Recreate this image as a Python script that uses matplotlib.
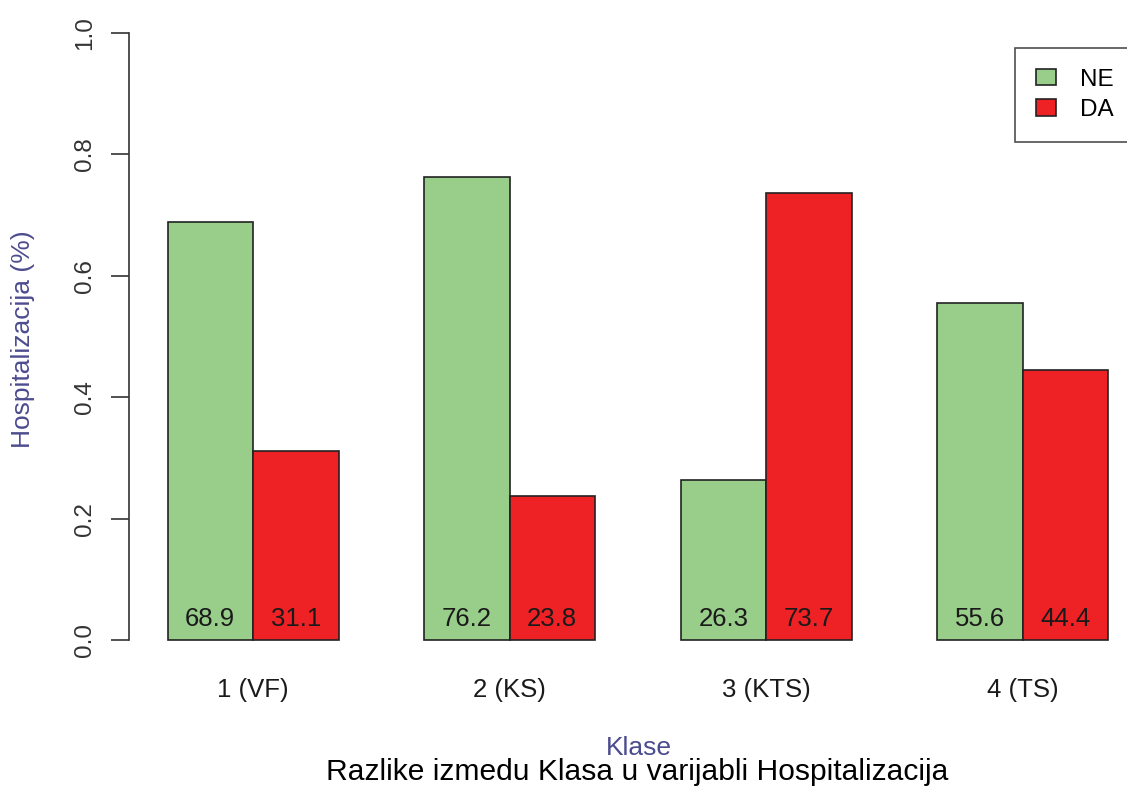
import numpy as np
import matplotlib as mpl
mpl.use('Agg')
from matplotlib import pyplot as plt
from matplotlib.patches import Patch
import matplotlib.transforms as mtransforms

plt.rcParams['font.family'] = ['Liberation Sans', 'DejaVu Sans']

# data
klase = ['1 (VF)', '2 (KS)', '3 (KTS)', '4 (TS)']
ne = [0.689, 0.762, 0.263, 0.556]
da = [0.311, 0.238, 0.737, 0.444]
ne_txt = ['68.9', '76.2', '26.3', '55.6']
da_txt = ['31.1', '23.8', '73.7', '44.4']
yticks = [0.0, 0.2, 0.4, 0.6, 0.8, 1.0]

green = '#98CE8A'
red = '#EE2124'
blue = '#4B4B8F'
ink = '#1a1a1a'

W, H = 1127, 798
fig = plt.figure(figsize=(W / 100, H / 100), dpi=100)

# axes: left spine at x=129px, y=0 at 640px, y=1 at 33px
ax_left = 129 / W
ax_bottom = 1 - 640 / H
ax_top = 1 - 33 / H
ax = fig.add_axes([ax_left, ax_bottom, 1 - ax_left, ax_top - ax_bottom])

unit = 85.5
ax.set_xlim(-(167.5 - 129) / unit, (W - 167.5) / unit)
ax.set_ylim(0, 1)

pos = np.arange(len(klase)) * 3
ax.bar(pos + 0.5, ne, width=1, color=green, edgecolor='#222222', linewidth=1.2, clip_on=False)
ax.bar(pos + 1.5, da, width=1, color=red, edgecolor='#222222', linewidth=1.2, clip_on=False)

for i in range(len(klase)):
    ax.text(pos[i] + 0.5, 0.023, ne_txt[i], ha='center', va='baseline', fontsize=18.5, color=ink)
    ax.text(pos[i] + 1.5, 0.023, da_txt[i], ha='center', va='baseline', fontsize=18.5, color=ink)

# group labels under the bars (no x axis line in the original)
ax.set_xticks([])
xlab_tr = mtransforms.blended_transform_factory(ax.transData, fig.transFigure)
for i in range(len(klase)):
    ax.text(pos[i] + 1, 1 - 697 / H, klase[i], ha='center', va='baseline', fontsize=18.5,
            color=ink, transform=xlab_tr)

# y axis
ax.set_yticks(yticks)
ax.set_yticklabels([])
ax.tick_params(axis='y', length=13, width=1.2, color='#333333')
ylab_tr = mtransforms.blended_transform_factory(fig.transFigure, ax.transData)
for v in yticks:
    ax.text(85 / W, v, '%.1f' % v, rotation=90, ha='center', va='center', fontsize=17.5,
            color='#333333', transform=ylab_tr)

for s in ['top', 'right', 'bottom']:
    ax.spines[s].set_visible(False)
ax.spines['left'].set_bounds(0, 1)
ax.spines['left'].set_linewidth(1.2)
ax.spines['left'].set_color('#333333')

fig.text(23 / W, 1 - 339 / H, 'Hospitalizacija (%)', rotation=90, ha='center', va='center',
         fontsize=19, color=blue)
fig.text(639 / W, 1 - 755 / H, 'Klase', ha='center', va='baseline', fontsize=19, color=blue)
fig.text(637 / W, 1 - 780 / H, 'Razlike izmedu Klasa u varijabli Hospitalizacija',
         ha='center', va='baseline', fontsize=21.6, color='black')

handles = [Patch(facecolor=green, edgecolor='#222222', linewidth=1.2, label='NE'),
           Patch(facecolor=red, edgecolor='#222222', linewidth=1.2, label='DA')]
leg = fig.legend(handles=handles, loc='upper left',
                 bbox_to_anchor=(1015 / W, 1 - 139 / H, 130 / W, 91 / H), mode='expand',
                 fontsize=17.5, frameon=True, fancybox=False, borderpad=0.85,
                 handlelength=0.82, handleheight=0.66, labelspacing=0.35, handletextpad=1.0,
                 borderaxespad=0)
leg.get_frame().set_edgecolor('#222222')
leg.get_frame().set_linewidth(1.2)

plt.savefig('out.png', dpi=100, facecolor='w')
